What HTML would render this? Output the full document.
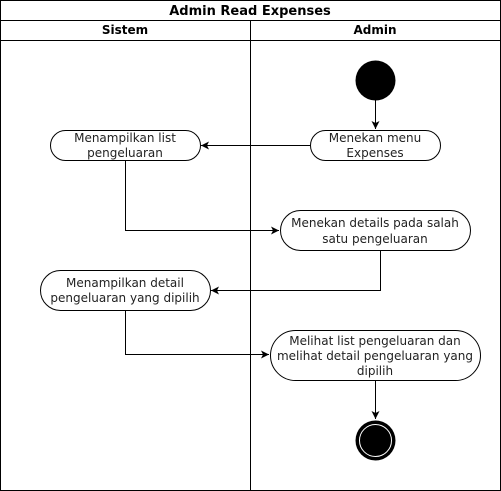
<!DOCTYPE html>
<html><head><style>body{margin:0;background:#fff}svg{display:block}text{font-family:"DejaVu Sans",Verdana,sans-serif;font-size:12px;fill:#222}</style></head>
<body>
<svg width="501" height="491" viewBox="0 0 501 491" xmlns="http://www.w3.org/2000/svg">
<defs><marker id="a" markerWidth="10" markerHeight="10" refX="8" refY="5" orient="auto" markerUnits="userSpaceOnUse"><path d="M0,1 L8,5 L0,9 L2,5 Z" fill="#000"/></marker></defs>
<g fill="none" stroke="#000" stroke-width="1">
<rect x="0.5" y="0.5" width="500" height="490"/>
<line x1="0.5" y1="20.5" x2="500.5" y2="20.5"/>
<line x1="0.5" y1="40.5" x2="500.5" y2="40.5"/>
<line x1="250.5" y1="20.5" x2="250.5" y2="490.5"/>
<rect x="310.5" y="130.5" width="130" height="30" rx="15"/>
<rect x="50.5" y="130.5" width="150" height="30" rx="15"/>
<rect x="280.5" y="210.5" width="190" height="40" rx="20"/>
<rect x="40.5" y="270.5" width="170" height="40" rx="20"/>
<rect x="270.5" y="330.5" width="210" height="50" rx="25"/>
<path d="M375.5,100 V129" marker-end="url(#a)"/>
<path d="M310,145.5 H201" marker-end="url(#a)"/>
<path d="M125.5,161 V230.5 H279" marker-end="url(#a)"/>
<path d="M380.5,251 V290.5 H211" marker-end="url(#a)"/>
<path d="M125.5,311 V354.5 H269" marker-end="url(#a)"/>
<path d="M375.5,381 V419" marker-end="url(#a)"/>
</g>
<circle cx="375.5" cy="80.5" r="20" fill="#000"/>
<circle cx="375.5" cy="440.5" r="20" fill="#000"/>
<circle cx="375.5" cy="440.5" r="16" fill="none" stroke="#fff" stroke-width="1"/>
<text x="250" y="15" text-anchor="middle" style="font-weight:bold;font-size:13px;fill:#000">Admin Read Expenses</text>
<text x="125" y="34" text-anchor="middle" style="font-weight:bold;fill:#000">Sistem</text>
<text x="375" y="34" text-anchor="middle" style="font-weight:bold;fill:#000">Admin</text>
<g text-anchor="middle">
<text x="375" y="142">Menekan menu</text><text x="375" y="157">Expenses</text>
<text x="125" y="142">Menampilkan list</text><text x="125" y="157">pengeluaran</text>
<text x="375" y="227">Menekan details pada salah</text><text x="375" y="243">satu pengeluaran</text>
<text x="125" y="287">Menampilkan detail</text><text x="125" y="302">pengeluaran yang dipilih</text>
<text x="375" y="345">Melihat list pengeluaran dan</text><text x="375" y="360">melihat detail pengeluaran yang</text><text x="375" y="375">dipilih</text>
</g>
</svg>
</body></html>
